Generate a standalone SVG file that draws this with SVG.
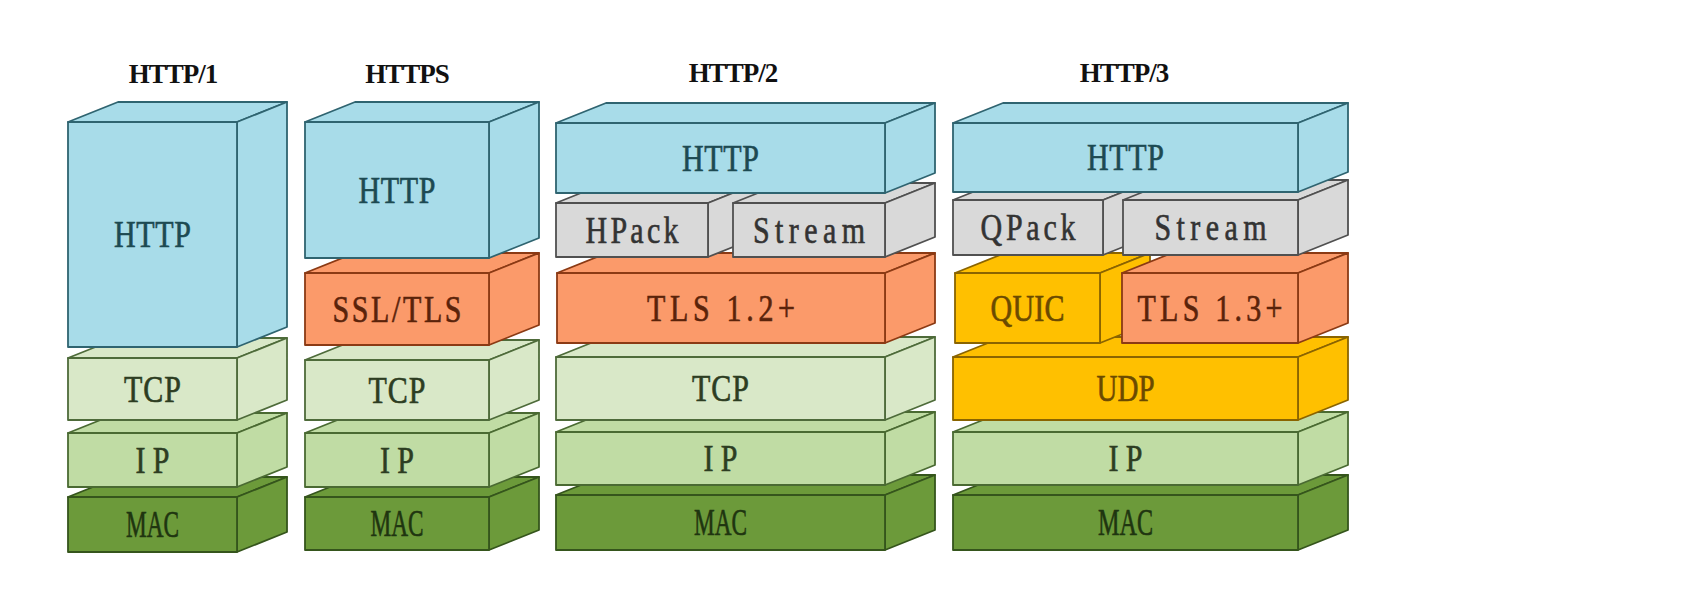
<svg xmlns="http://www.w3.org/2000/svg" width="1704" height="600" viewBox="0 0 1704 600">
<style>
.box path,.box rect{stroke-width:1.8;stroke-linejoin:round}
.http path,.http rect{fill:#a8dce9;stroke:#2f6470}
.tls path,.tls rect{fill:#fb9a6a;stroke:#8b3a14}
.gray path,.gray rect{fill:#d9d9d9;stroke:#505050}
.tcp path,.tcp rect{fill:#d9e8c8;stroke:#4e6b3a}
.ip path,.ip rect{fill:#c0dca4;stroke:#4a6a32}
.mac path,.mac rect{fill:#6c9a3a;stroke:#35551c}
.udp path,.udp rect{fill:#ffc000;stroke:#8a6400}
.lbl{font-family:"Liberation Serif","Times New Roman",serif;font-size:30px;text-anchor:middle;stroke-width:0.5}
.http text{fill:#1d4a52;stroke:#1d4a52}.tls text{fill:#5a230a;stroke:#5a230a}.gray text{fill:#333;stroke:#333}
.tcp text,.ip text{fill:#2d3d22;stroke:#2d3d22}.mac text{fill:#1f3510;stroke:#1f3510}.udp text{fill:#6b4a00;stroke:#6b4a00}
.title{font-family:"Liberation Serif","Times New Roman",serif;font-weight:bold;font-size:27px;text-anchor:middle;fill:#111;letter-spacing:-1px}
</style>
<rect width="1704" height="600" fill="#fff"/>
<g id="titles">
<text class="title" x="173" y="83">HTTP/1</text>
<text class="title" x="407" y="83">HTTPS</text>
<text class="title" x="733" y="82">HTTP/2</text>
<text class="title" x="1124" y="82">HTTP/3</text>
</g>
<g id="connectors"/>
<!-- HTTP/1 -->
<g id="h1-mac" class="box mac"><path d="M68,497 l50,-20 h169 l-50,20 z"/><path d="M237,497 l50,-20 v55 l-50,20 z"/><rect x="68" y="497" width="169" height="55"/><text class="lbl" transform="translate(152.5,536.5) scale(1,1.25)" textLength="53" lengthAdjust="spacingAndGlyphs">MAC</text></g>
<g id="h1-ip" class="box ip"><path d="M68,433 l50,-20 h169 l-50,20 z"/><path d="M237,433 l50,-20 v54 l-50,20 z"/><rect x="68" y="433" width="169" height="54"/><text class="lbl" transform="translate(152.5,472.5) scale(1,1.25)" textLength="34" lengthAdjust="spacing">IP</text></g>
<g id="h1-tcp" class="box tcp"><path d="M68,358 l50,-20 h169 l-50,20 z"/><path d="M237,358 l50,-20 v62 l-50,20 z"/><rect x="68" y="358" width="169" height="62"/><text class="lbl" transform="translate(152.5,401.5) scale(1,1.25)" textLength="57" lengthAdjust="spacing">TCP</text></g>
<g id="h1-http" class="box http"><path d="M68,122 l50,-20 h169 l-50,20 z"/><path d="M237,122 l50,-20 v225 l-50,20 z"/><rect x="68" y="122" width="169" height="225"/><text class="lbl" transform="translate(152.5,247) scale(1,1.25)" textLength="77" lengthAdjust="spacing">HTTP</text></g>
<!-- HTTPS -->
<g id="hs-mac" class="box mac"><path d="M305,497 l50,-20 h184 l-50,20 z"/><path d="M489,497 l50,-20 v53 l-50,20 z"/><rect x="305" y="497" width="184" height="53"/><text class="lbl" transform="translate(397,536) scale(1,1.25)" textLength="53" lengthAdjust="spacingAndGlyphs">MAC</text></g>
<g id="hs-ip" class="box ip"><path d="M305,433 l50,-20 h184 l-50,20 z"/><path d="M489,433 l50,-20 v54 l-50,20 z"/><rect x="305" y="433" width="184" height="54"/><text class="lbl" transform="translate(397,472.5) scale(1,1.25)" textLength="34" lengthAdjust="spacing">IP</text></g>
<g id="hs-tcp" class="box tcp"><path d="M305,360 l50,-20 h184 l-50,20 z"/><path d="M489,360 l50,-20 v60 l-50,20 z"/><rect x="305" y="360" width="184" height="60"/><text class="lbl" transform="translate(397,402.5) scale(1,1.25)" textLength="57" lengthAdjust="spacing">TCP</text></g>
<g id="hs-ssl" class="box tls"><path d="M305,273 l50,-20 h184 l-50,20 z"/><path d="M489,273 l50,-20 v72 l-50,20 z"/><rect x="305" y="273" width="184" height="72"/><text class="lbl" transform="translate(397,321.5) scale(1,1.25)" textLength="129" lengthAdjust="spacing">SSL/TLS</text></g>
<g id="hs-http" class="box http"><path d="M305,122 l50,-20 h184 l-50,20 z"/><path d="M489,122 l50,-20 v136 l-50,20 z"/><rect x="305" y="122" width="184" height="136"/><text class="lbl" transform="translate(397,202.5) scale(1,1.25)" textLength="77" lengthAdjust="spacing">HTTP</text></g>
<!-- HTTP/2 -->
<g id="h2-mac" class="box mac"><path d="M556,495 l50,-20 h329 l-50,20 z"/><path d="M885,495 l50,-20 v55 l-50,20 z"/><rect x="556" y="495" width="329" height="55"/><text class="lbl" transform="translate(720.5,535) scale(1,1.25)" textLength="53" lengthAdjust="spacingAndGlyphs">MAC</text></g>
<g id="h2-ip" class="box ip"><path d="M556,432 l50,-20 h329 l-50,20 z"/><path d="M885,432 l50,-20 v53 l-50,20 z"/><rect x="556" y="432" width="329" height="53"/><text class="lbl" transform="translate(720.5,471) scale(1,1.25)" textLength="34" lengthAdjust="spacing">IP</text></g>
<g id="h2-tcp" class="box tcp"><path d="M556,357 l50,-20 h329 l-50,20 z"/><path d="M885,357 l50,-20 v63 l-50,20 z"/><rect x="556" y="357" width="329" height="63"/><text class="lbl" transform="translate(720.5,401) scale(1,1.25)" textLength="57" lengthAdjust="spacing">TCP</text></g>
<g id="h2-tls" class="box tls"><path d="M557,273 l50,-20 h328 l-50,20 z"/><path d="M885,273 l50,-20 v70 l-50,20 z"/><rect x="557" y="273" width="328" height="70"/><text class="lbl" transform="translate(721,320.5) scale(1,1.25)" textLength="148" lengthAdjust="spacing">TLS 1.2+</text></g>
<g id="h2-hpack" class="box gray"><path d="M556,203 l50,-20 h152 l-50,20 z"/><path d="M708,203 l50,-20 v54 l-50,20 z"/><rect x="556" y="203" width="152" height="54"/><text class="lbl" transform="translate(632,242.5) scale(1,1.25)" textLength="93" lengthAdjust="spacing">HPack</text></g>
<g id="h2-stream" class="box gray"><path d="M733,203 l50,-20 h152 l-50,20 z"/><path d="M885,203 l50,-20 v54 l-50,20 z"/><rect x="733" y="203" width="152" height="54"/><text class="lbl" transform="translate(809,242.5) scale(1,1.25)" textLength="112" lengthAdjust="spacing">Stream</text></g>
<g id="h2-http" class="box http"><path d="M556,123 l50,-20 h329 l-50,20 z"/><path d="M885,123 l50,-20 v70 l-50,20 z"/><rect x="556" y="123" width="329" height="70"/><text class="lbl" transform="translate(720.5,170.5) scale(1,1.25)" textLength="77" lengthAdjust="spacing">HTTP</text></g>
<!-- HTTP/3 -->
<g id="h3-mac" class="box mac"><path d="M953,495 l50,-20 h345 l-50,20 z"/><path d="M1298,495 l50,-20 v55 l-50,20 z"/><rect x="953" y="495" width="345" height="55"/><text class="lbl" transform="translate(1125.5,535) scale(1,1.25)" textLength="55" lengthAdjust="spacingAndGlyphs">MAC</text></g>
<g id="h3-ip" class="box ip"><path d="M953,432 l50,-20 h345 l-50,20 z"/><path d="M1298,432 l50,-20 v53 l-50,20 z"/><rect x="953" y="432" width="345" height="53"/><text class="lbl" transform="translate(1125.5,471) scale(1,1.25)" textLength="34" lengthAdjust="spacing">IP</text></g>
<g id="h3-udp" class="box udp"><path d="M953,357 l50,-20 h345 l-50,20 z"/><path d="M1298,357 l50,-20 v63 l-50,20 z"/><rect x="953" y="357" width="345" height="63"/><text class="lbl" transform="translate(1125.5,401) scale(1,1.25)" textLength="58" lengthAdjust="spacingAndGlyphs">UDP</text></g>
<g id="h3-quic" class="box udp"><path d="M955,273 l50,-20 h145 l-50,20 z"/><path d="M1100,273 l50,-20 v70 l-50,20 z"/><rect x="955" y="273" width="145" height="70"/><text class="lbl" transform="translate(1027.5,320.5) scale(1,1.25)" textLength="74" lengthAdjust="spacing">QUIC</text></g>
<g id="h3-tls" class="box tls"><path d="M1122,273 l50,-20 h176 l-50,20 z"/><path d="M1298,273 l50,-20 v70 l-50,20 z"/><rect x="1122" y="273" width="176" height="70"/><text class="lbl" transform="translate(1210,320.5) scale(1,1.25)" textLength="145" lengthAdjust="spacing">TLS 1.3+</text></g>
<g id="h3-qpack" class="box gray"><path d="M953,200 l50,-20 h150 l-50,20 z"/><path d="M1103,200 l50,-20 v55 l-50,20 z"/><rect x="953" y="200" width="150" height="55"/><text class="lbl" transform="translate(1028,240) scale(1,1.25)" textLength="95" lengthAdjust="spacing">QPack</text></g>
<g id="h3-stream" class="box gray"><path d="M1123,200 l50,-20 h175 l-50,20 z"/><path d="M1298,200 l50,-20 v55 l-50,20 z"/><rect x="1123" y="200" width="175" height="55"/><text class="lbl" transform="translate(1210.5,240) scale(1,1.25)" textLength="112" lengthAdjust="spacing">Stream</text></g>
<g id="h3-http" class="box http"><path d="M953,123 l50,-20 h345 l-50,20 z"/><path d="M1298,123 l50,-20 v69 l-50,20 z"/><rect x="953" y="123" width="345" height="69"/><text class="lbl" transform="translate(1125.5,170) scale(1,1.25)" textLength="77" lengthAdjust="spacing">HTTP</text></g>
</svg>
